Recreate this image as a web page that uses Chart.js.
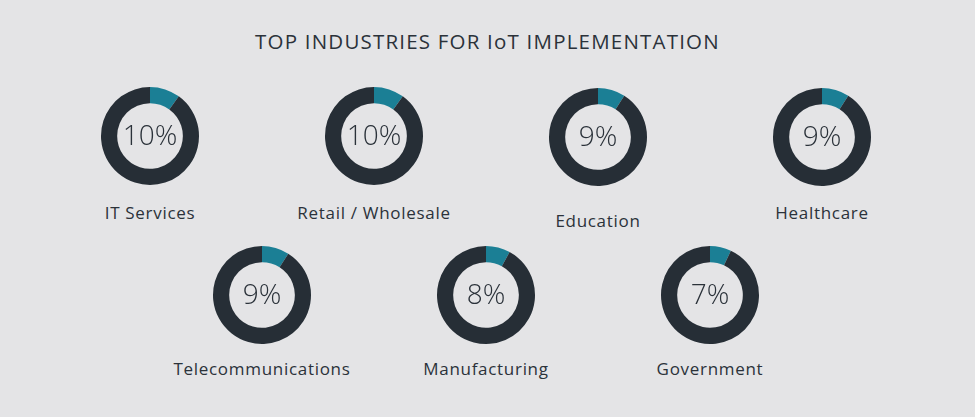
<!DOCTYPE html>
<html><head><meta charset="utf-8">
<script src="https://cdn.jsdelivr.net/npm/chart.js@4"></script>
<style>
body{margin:0;width:975px;height:417px;background:#e4e4e6;position:relative;overflow:hidden;font-family:"Open Sans",sans-serif;color:#2b323a}
#title{position:absolute;top:27px;left:0;width:975px;text-align:center;font-size:20.5px;letter-spacing:1.2px}
.box{position:absolute;width:102px;height:102px}
.lab{position:absolute;width:260px;text-align:center;font-size:17px;letter-spacing:0.7px}
</style></head><body>
<div id="title">TOP INDUSTRIES FOR IoT IMPLEMENTATION</div>
<script>
const categories=["IT Services","Retail / Wholesale","Education","Healthcare","Telecommunications","Manufacturing","Government"];
const percents=[10,10,9,9,9,8,7];
const centers=[[150,136],[374,136],[598,137],[822,137],[262,295],[486,295],[710,295]];
const labelY=[214,214,222,214,370,370,370];
const centerText={id:'ct',afterDraw(c){const ctx=c.ctx;const a=c.chartArea;ctx.save();ctx.font='300 28px "Open Sans"';ctx.fillStyle='#2b323a';ctx.textAlign='center';ctx.textBaseline='middle';ctx.fillText(c.options.plugins.ct.text,(a.left+a.right)/2,(a.top+a.bottom)/2+1);ctx.restore();}};
categories.forEach((cat,i)=>{
  const [x,y]=centers[i];
  const d=document.createElement('div');d.className='box';d.style.left=(x-51)+'px';d.style.top=(y-51)+'px';
  const cv=document.createElement('canvas');d.appendChild(cv);document.body.appendChild(d);
  const l=document.createElement('div');l.className='lab';l.textContent=cat;l.style.left=(x-130)+'px';l.style.top=(labelY[i]-13)+'px';document.body.appendChild(l);
  new Chart(cv,{type:'doughnut',plugins:[centerText],data:{labels:[cat,'Other'],datasets:[{data:[percents[i],100-percents[i]],backgroundColor:['#1b7f95','#262e36'],borderWidth:0}]},
    options:{responsive:true,maintainAspectRatio:false,animation:false,cutout:'67%',layout:{padding:2},plugins:{legend:{display:false},tooltip:{enabled:false},ct:{text:percents[i]+'%'}}}});
});
</script>
</body></html>
